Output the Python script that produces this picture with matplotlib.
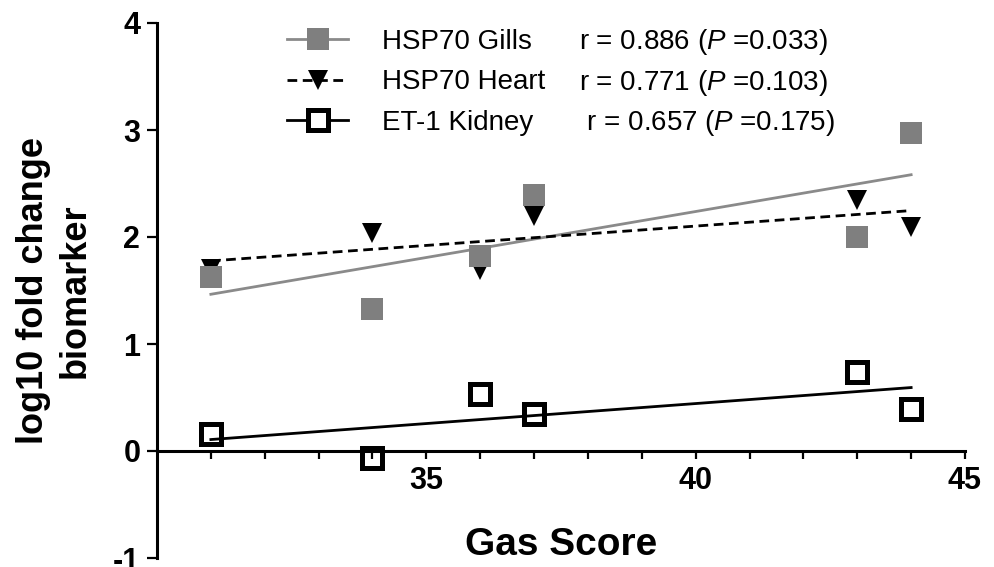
import numpy as np
import matplotlib
matplotlib.use('Agg')
import matplotlib.pyplot as plt
from matplotlib.lines import Line2D

## Data ##
gas_score = [31, 34, 36, 37, 43, 44]
hsp70_gills = [1.63, 1.33, 1.82, 2.39, 2.00, 2.97]
hsp70_heart = [1.70, 2.04, 1.69, 2.20, 2.35, 2.09]
et1_kidney = [0.16, -0.07, 0.53, 0.35, 0.74, 0.39]

series_names = ['HSP70 Gills', 'HSP70 Heart', 'ET-1 Kidney']
r_texts = [r'r = 0.886 ($\mathit{P}$ =0.033)',
           r'r = 0.771 ($\mathit{P}$ =0.103)',
           r' r = 0.657 ($\mathit{P}$ =0.175)']

x_major = [35, 40, 45]
x_minor = list(range(31, 45))
y_ticks = [-1, 0, 1, 2, 3, 4]

## Fonts ##
plt.rcParams['font.family'] = ['Liberation Sans', 'DejaVu Sans']
plt.rcParams['mathtext.fontset'] = 'custom'
plt.rcParams['mathtext.rm'] = 'Liberation Sans'
plt.rcParams['mathtext.it'] = 'Liberation Sans:italic'
plt.rcParams['axes.unicode_minus'] = False

grey_mark = '#7f7f7f'
grey_line = '#8a8a8a'

fig = plt.figure(figsize=(9.94, 5.67), dpi=100)
ax = fig.add_axes([157 / 994, 9 / 567, 808 / 994, 535 / 567])

x = np.array(gas_score)
x_fit = np.array([min(gas_score), max(gas_score)])

# regression lines
for y, col, ls in [(hsp70_gills, grey_line, '-'),
                   (hsp70_heart, 'black', (0, (3.5, 2))),
                   (et1_kidney, 'black', '-')]:
    k, b = np.polyfit(x, y, 1)
    ax.plot(x_fit, k * x_fit + b, color=col, linestyle=ls, lw=2, zorder=2)

# points
ax.plot(x, hsp70_heart, 'v', color='black', ms=15, mew=0, zorder=3)
ax.plot(x, hsp70_gills, 's', color=grey_mark, ms=16, mew=0, zorder=4)
ax.plot(x, et1_kidney, 's', mfc='none', mec='black', ms=15, mew=3.6, zorder=4)

## Axes styling ##
ax.set_xlim(30, 45)
ax.set_ylim(-1, 4)
ax.spines['top'].set_visible(False)
ax.spines['right'].set_visible(False)
ax.spines['bottom'].set_position(('data', 0))
for s in ['left', 'bottom']:
    ax.spines[s].set_linewidth(2.2)

ax.set_xticks(x_major)
ax.set_xticks(x_minor, minor=True)
ax.set_yticks(y_ticks)
ax.tick_params(axis='x', which='both', direction='out', length=6, width=1.6, pad=5)
ax.tick_params(axis='y', direction='out', length=7, width=1.6, pad=5)
for lab in ax.get_xticklabels() + ax.get_yticklabels():
    lab.set_fontweight('bold')
    lab.set_fontsize(22)

ax.set_xlabel('Gas Score', fontsize=28, fontweight='bold', va='baseline')
ax.xaxis.set_label_coords(0.5, 0.006)
ax.set_ylabel('log10 fold change\nbiomarker', fontsize=26, fontweight='bold',
              linespacing=1.25)
ax.yaxis.set_label_coords(-0.080, 0.5)

## Legend: names with handles, then r values in a second legend ##
handles = [
    Line2D([], [], color=grey_line, lw=2, marker='s', ms=16, mfc=grey_mark, mec=grey_mark, mew=0),
    Line2D([], [], color='black', lw=2, linestyle=(0, (3.5, 2)), marker='v', ms=15, mew=0),
    Line2D([], [], color='black', lw=2, marker='s', ms=15, mfc='white', mec='black', mew=3.6),
]
leg1 = ax.legend(handles, series_names, loc='upper left',
                 bbox_to_anchor=(0.161, 0.9895), frameon=False, fontsize=20,
                 handlelength=2.2, handletextpad=1.2, labelspacing=0.53,
                 borderpad=0, borderaxespad=0, numpoints=1)
ax.add_artist(leg1)

blanks = [Line2D([], [], linestyle='none') for _ in range(3)]
ax.legend(blanks, r_texts, loc='upper left',
          bbox_to_anchor=(0.522, 0.992), frameon=False, fontsize=20,
          handlelength=0, handletextpad=0, labelspacing=0.37,
          borderpad=0, borderaxespad=0)

fig.savefig('out.png', dpi=100)
